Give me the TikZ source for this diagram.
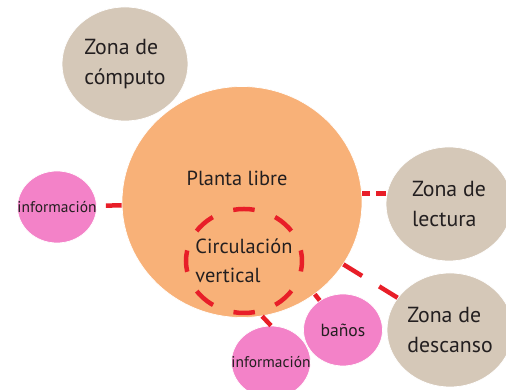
\documentclass[tikz,border=0pt]{standalone}
\usepackage{fontspec}
\setmainfont{PT Sans}
\usetikzlibrary{shapes.geometric}
\definecolor{plantaorange}{RGB}{248,177,120}
\definecolor{zonabeige}{RGB}{213,200,184}
\definecolor{infopink}{RGB}{243,130,200}
\definecolor{linkred}{RGB}{232,30,40}
\definecolor{textgray}{RGB}{35,31,32}

\begin{document}
\begin{tikzpicture}[
  every node/.style={text=textgray, align=left, inner sep=0pt},
  bigtext/.style={font=\fontsize{11.6}{16.5}\selectfont},
  bubble/.style={ellipse, inner xsep=-0.6cm, inner ysep=-0.35cm},
  zona/.style={bubble, fill=zonabeige, draw=white,
               font=\fontsize{12.4}{16.8}\selectfont,
               minimum width=2.52cm, minimum height=2.28cm},
  info/.style={bubble, fill=infopink, draw=white,
               font=\fontsize{8.8}{10}\selectfont,
               minimum width=1.58cm, minimum height=1.44cm},
  link/.style={draw=linkred, line width=0.09cm}
]
  \useasboundingbox (0,0) rectangle (10.12,7.8);

  % Central free-plan zone
  \node[bubble, fill=plantaorange, draw=white,
        minimum width=4.8cm, minimum height=4.62cm,
        label={[bigtext, xshift=-0.1cm, yshift=0.48cm]center:Planta libre}]
    (planta) at (4.84, 3.76) {};
  \node[bubble, link, dash pattern=on 0.43cm off 0.435cm, dash phase=0.215cm,
        bigtext, minimum width=2.32cm, minimum height=2.08cm]
    (circ) at (4.88, 2.58) {Circulación\\vertical};

  % Surrounding zones
  \node[zona] (computo) at (2.5, 6.52) {Zona de\\cómputo};
  \node[zona] (lectura) at (8.98, 3.72) {Zona de\\lectura};
  \node[zona] (descanso) at (9.0, 1.2) {Zona de\\descanso};

  % Service points
  \node[info] (infoL) at (1.14, 3.66) {información};
  \node[info] (infoB) at (5.42, 0.56) {información};
  \node[info, font=\fontsize{10}{11}\selectfont] (banos) at (6.86, 1.2) {baños};

  % Connectors
  \draw[link, shorten <=0.18cm] (infoL) -- (planta);
  \draw[link, dash pattern=on 0.16cm off 0.12cm on 0.22cm off 0.1cm]
    (planta.4) -- (planta.4 -| lectura.west);
  \draw[link, dash pattern=on 0.44cm off 0.4cm] (planta) -- (descanso);
  \draw[link] (planta) -- (banos);
  \draw[link] (planta.-80) -- (infoB.north);
\end{tikzpicture}
\end{document}
